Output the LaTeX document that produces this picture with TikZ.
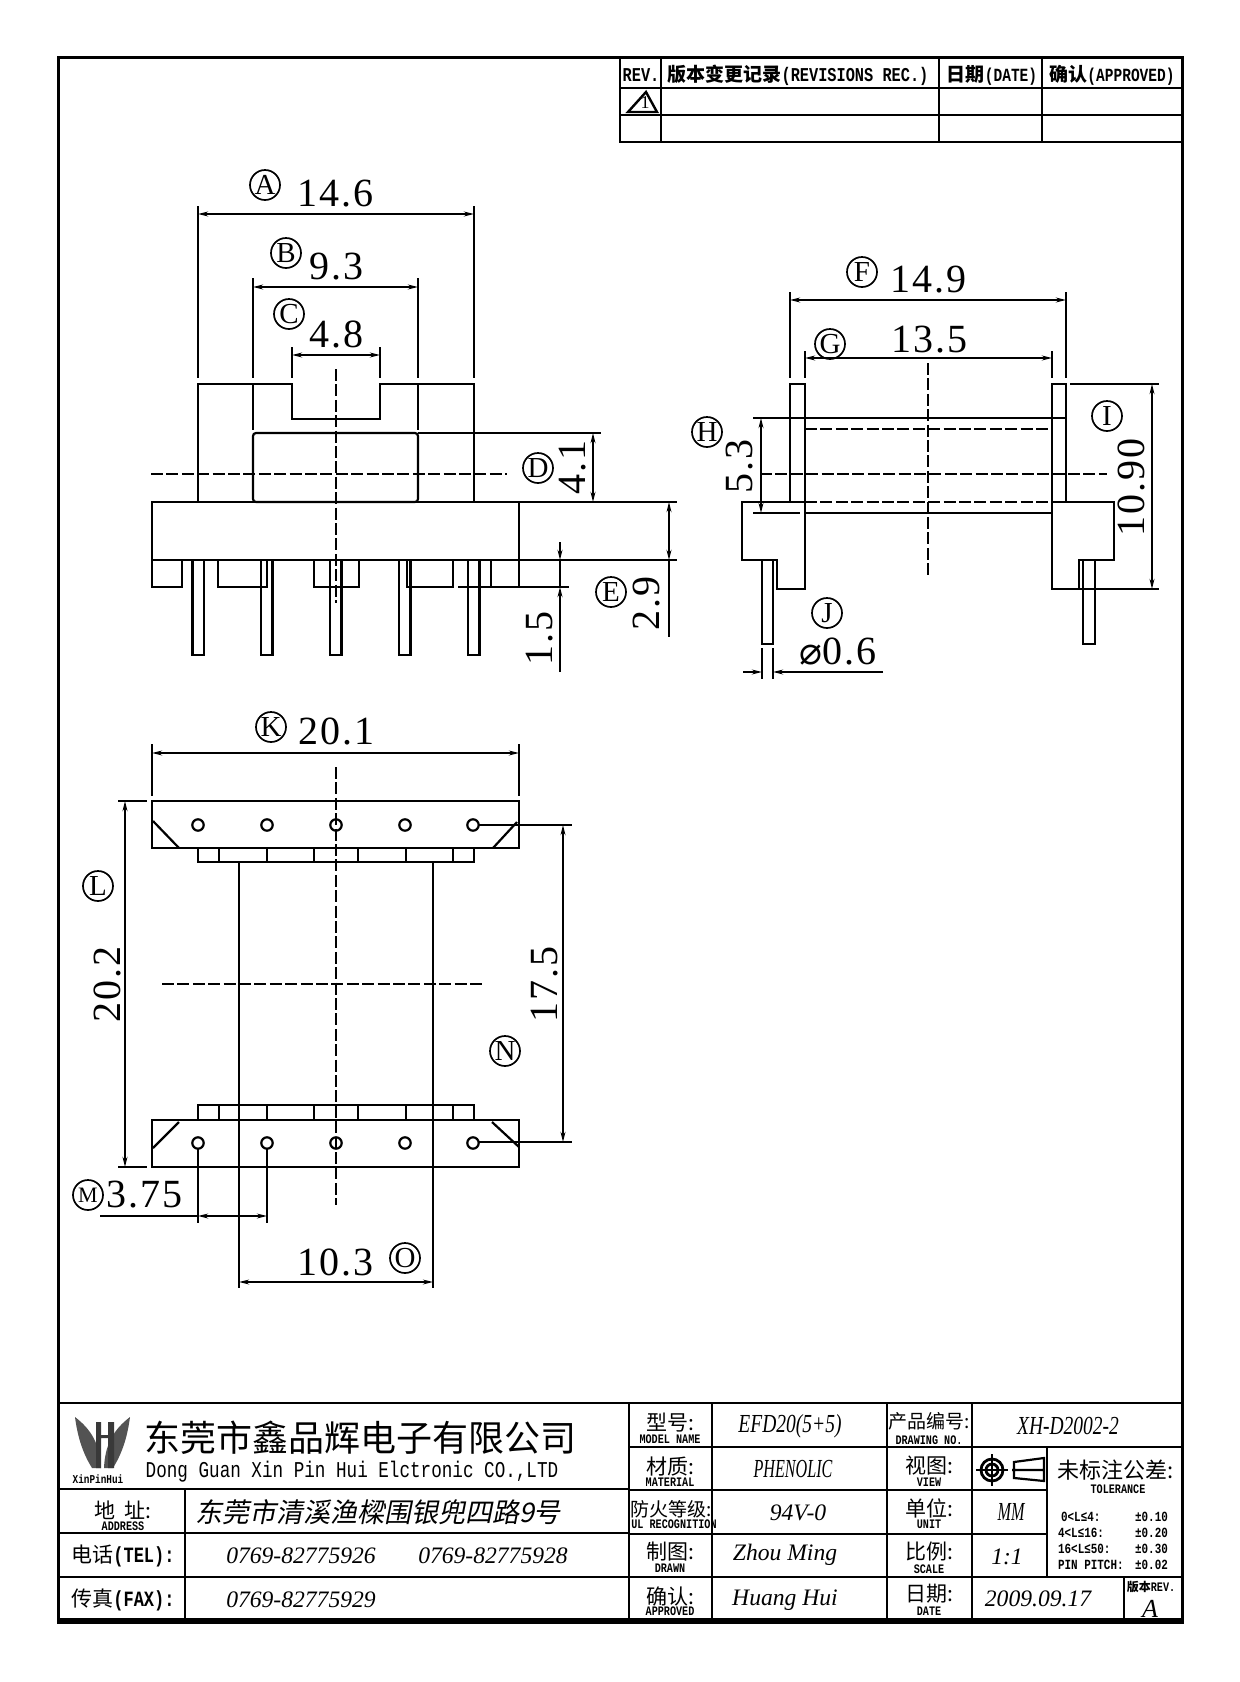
\documentclass[tikz,border=0pt]{standalone}
\usepackage{fontspec}
\usetikzlibrary{arrows.meta}
\setmainfont{Liberation Serif}
\newfontfamily\hanfont{Noto Sans CJK SC}
\newfontfamily\hanslant[FakeSlant=0.2]{Noto Sans CJK SC}
\newfontfamily\latfont[FakeStretch=0.78]{Liberation Mono}
\newfontfamily\dimfont[LetterSpace=5]{Liberation Serif}
\newfontfamily\symfont{DejaVu Sans}
\newfontfamily\valcond[FakeStretch=0.75]{Liberation Serif}
\newfontfamily\valnarrow[FakeStretch=0.62]{Liberation Serif}
\newcommand{\fsz}[1]{\fontsize{#1}{#1}\selectfont}
\begin{document}
\begin{tikzpicture}[x=0.5pt,y=-0.5pt,line width=1.1pt,>={Stealth[length=5pt,width=2.4pt]},
    every node/.style={inner sep=0pt,align=center},
    letterc/.style={circle,draw,line width=0.85pt,minimum size=15pt,font=\fsz{14.5}},
    dimtext/.style={font=\dimfont\fsz{20}},
    dimline/.style={<->,line width=0.95pt},
    centerline/.style={line width=0.95pt,dash pattern=on 6pt off 1.7pt},
    hanbig/.style={font=\hanfont\fsz{10.5}},
    capsmall/.style={font=\latfont\bfseries\fsz{6.5}},
    valit/.style={font=\itshape\fsz{11.8}},
    valc/.style={font=\valcond\itshape\fsz{13}},
    valn/.style={font=\valnarrow\itshape\fsz{13}},
    tolrow/.style={font=\latfont\bfseries\fsz{7},anchor=west}]
\fill[white] (0,0) rectangle (1240,1682);
\useasboundingbox (0,0) rectangle (1240,1682);
% frame and revision table
\draw[line width=1.5pt] (58,57) rectangle (1182,1622);
\draw[line width=1.4pt] (620,57) -- (620,142) -- (1182,142) (620,88) -- (1182,88) (620,115) -- (1182,115)
  (661,57) -- (661,142) (939,57) -- (939,142) (1042,57) -- (1042,142);
\node[font=\latfont\bfseries\fsz{9.8}] (revhead) at (641,75) {REV.};
\node (revtext) at (798,75) {{\hanfont\bfseries\fsz{9.5}版本变更记录}{\latfont\bfseries\fsz{9.8}(REVISIONS REC.)}};
\node (datetext) at (992,75) {{\hanfont\bfseries\fsz{9.5}日期}{\latfont\bfseries\fsz{9.3}(DATE)}};
\node (oktext) at (1112,75) {{\hanfont\bfseries\fsz{9.5}确认}{\latfont\bfseries\fsz{9.3}(APPROVED)}};
\draw[line width=1.2pt] (628,112) -- (646,92) -- (657,112) -- cycle;
\node[font=\fsz{9}] (revone) at (645,103) {1};
% front view
\draw (198,502) -- (198,384) -- (292,384) -- (292,419) -- (380,419) -- (380,384) -- (474,384) -- (474,502);
\draw (253,384) -- (253,430) (418,384) -- (418,430);
\draw[rounded corners=1.5pt] (253,433) rectangle (418,502);
\draw (152,502) rectangle (519,560);
\draw (152,560) -- (152,587) -- (182,587) -- (182,560);
\draw (218,560) -- (218,587) -- (267,587) -- (267,560);
\draw (314,560) -- (314,587) -- (359,587) -- (359,560);
\draw (407,560) -- (407,587) -- (453,587) -- (453,560);
\draw (491,560) -- (491,587) (519,560) -- (519,587) (458,587) -- (569,587);
\foreach \pinx in {192.5,261,330,399,468}
  \draw (\pinx,560) rectangle ++(11.5,95);
\draw[centerline] (336,369) -- (336,603);
\draw[centerline] (151,474) -- (507,474);
% front view dimensions
\draw (198,206) -- (198,378) (474,206) -- (474,378) (253,278) -- (253,378) (418,278) -- (418,378)
  (292,347) -- (292,378) (380,347) -- (380,378);
\draw[dimline] (198,214) -- (474,214);
\draw[dimline] (253,287) -- (418,287);
\draw[dimline] (292,355) -- (380,355);
\node[letterc] (lettera) at (265,185) {A};
\node[dimtext] (dima) at (335,194) {14.6};
\node[letterc] (letterb) at (286,253) {B};
\node[dimtext] (dimb) at (336,267) {9.3};
\node[letterc] (letterc) at (289,314) {C};
\node[dimtext] (dimc) at (336,334) {4.8};
\draw (418,433) -- (601,433) (519,502) -- (677,502) (519,560) -- (677,560);
\draw[dimline] (593,433) -- (593,502);
\draw[dimline] (669,502) -- (669,560);
\draw (669,560) -- (669,637);
\draw[->] (560,542) -- (560,560);
\draw (560,560) -- (560,587);
\draw[->] (560,672) -- (560,587);
\node[letterc] (letterd) at (538,468) {D};
\node[dimtext,rotate=90] (dimd) at (573,467) {4.1};
\node[letterc] (lettere) at (611,592) {E};
\node[dimtext,rotate=90] (dime) at (647,603) {2.9};
\node[dimtext,rotate=90] (dimf) at (540,638) {1.5};
% side view
\draw (790,502) -- (790,384) -- (805,384) -- (805,589) -- (777,589) -- (777,560) -- (742,560) -- (742,502) -- (805,502);
\draw (1066,502) -- (1066,384) -- (1052,384) -- (1052,589) -- (1079,589) -- (1079,560) -- (1114,560) -- (1114,502) -- (1052,502);
\draw (762,560) -- (762,644) -- (773,644) -- (773,560);
\draw (1083,560) -- (1083,644) -- (1095,644) -- (1095,560);
\draw (753,418) -- (1066,418) (753,513) -- (800,513) (805,513) -- (1052,513);
\draw[centerline] (805,429) -- (1052,429) (805,502) -- (1052,502);
\draw[centerline] (760,474) -- (1107,474);
\draw[centerline] (928,363) -- (928,577);
% side view dimensions
\draw (790,292) -- (790,378) (1066,292) -- (1066,378) (805,351) -- (805,378) (1052,351) -- (1052,378);
\draw[dimline] (790,300) -- (1066,300);
\draw[dimline] (805,358) -- (1052,358);
\node[letterc] (letterf) at (862,272) {F};
\node[dimtext] (dimg) at (928,280) {14.9};
\node[letterc] (letterg) at (830,344) {G};
\node[dimtext] (dimh) at (929,340) {13.5};
\draw[dimline] (761,418) -- (761,513);
\node[letterc] (letterh) at (707,432) {H};
\node[dimtext,rotate=90] (dimi) at (740,466) {5.3};
\node[letterc] (letteri) at (1107,416) {I};
\node[dimtext,rotate=90] (dimj) at (1131,487) {10.90};
\draw (1070,384) -- (1159,384) (1079,589) -- (1159,589);
\draw[dimline] (1152,384) -- (1152,589);
\node[letterc] (letterj) at (827,613) {J};
\node[dimtext] (dimk) at (838,652) {{\symfont\fsz{19}⌀}0.6};
\draw (762,648) -- (762,679) (773,648) -- (773,679);
\draw[->] (743,672) -- (762,672);
\draw[->] (883,672) -- (773,672);
% plan view
\draw (152,801) rectangle (519,848);
\draw (152,1120) rectangle (519,1167);
\draw (153,821) -- (179,848) (493,848) -- (517,822);
\draw (153,1148) -- (179,1122) (492,1122) -- (519,1147);
\draw (198,848) rectangle (474,862);
\draw (198,1105) rectangle (474,1120);
\foreach \divx in {219,267,314,358,406,453} {
  \draw (\divx,848) -- (\divx,862);
  \draw (\divx,1105) -- (\divx,1120);
}
\foreach \holex in {198,267,336,405,473} {
  \draw (\holex,825) circle (5.7);
  \draw (\holex,1143) circle (5.7);
}
\draw (239,862) -- (239,1288) (433,862) -- (433,1288);
\draw[centerline] (336,767) -- (336,1205);
\draw[centerline] (162,984) -- (484,984);
% plan view dimensions
\draw (152,744) -- (152,796) (519,744) -- (519,796);
\draw[dimline] (152,753) -- (519,753);
\node[letterc] (letterk) at (271,727) {K};
\node[dimtext] (diml) at (336,731) {20.1};
\draw (118,801) -- (147,801) (118,1167) -- (147,1167);
\draw[dimline] (125,801) -- (125,1167);
\node[letterc] (letterl) at (98,886) {L};
\node[dimtext,rotate=90] (dimm) at (107,984) {20.2};
\draw (479,825) -- (572,825) (479,1142) -- (572,1142);
\draw[dimline] (563,825) -- (563,1142);
\node[dimtext,rotate=90] (dimn) at (545,984) {17.5};
\node[letterc] (lettern) at (505,1051) {N};
\draw (198,1149) -- (198,1223) (267,1149) -- (267,1223) (100,1216) -- (198,1216);
\draw[dimline] (198,1216) -- (267,1216);
\node[letterc,font=\fsz{11}] (letterm) at (88,1195) {M};
\node[dimtext] (dimo) at (144,1195) {3.75};
\draw[dimline] (239,1282) -- (433,1282);
\node[dimtext] (dimp) at (335,1262) {10.3};
\node[letterc] (lettero) at (405,1258) {O};
% title block
\draw[line width=1.4pt] (58,1403) -- (1182,1403) (58,1489) -- (629,1489) (58,1533) -- (629,1533) (58,1577) -- (629,1577)
  (185,1489) -- (185,1622) (629,1403) -- (629,1622) (712,1403) -- (712,1622) (887,1403) -- (887,1622) (972,1403) -- (972,1622)
  (629,1447) -- (1182,1447) (629,1490) -- (1047,1490) (629,1534) -- (1047,1534) (629,1577) -- (1182,1577)
  (1047,1447) -- (1047,1577) (1124,1577) -- (1124,1622);
\draw[line width=2.6pt] (58,1621) -- (1182,1621);
% logo
\fill[gray!65!black] (75,1417) .. controls (78,1440) and (84,1455) .. (92,1468) -- (101,1468) .. controls (100,1445) and (92,1430) .. (75,1417);
\fill[gray!65!black] (130,1417) .. controls (127,1440) and (121,1455) .. (113,1468) -- (104,1468) .. controls (105,1445) and (113,1430) .. (130,1417);
\fill[gray!45!black] (96,1422) rectangle (101,1468) (108,1422) rectangle (114,1468) (96,1435) rectangle (114,1438);
\node[font=\latfont\bfseries\fsz{6}] (logotext) at (98,1479) {XinPinHui};
\node[font=\hanfont\fsz{18}] (company) at (360,1438) {东莞市鑫品辉电子有限公司};
\node[font=\latfont\fsz{11.3}] (companyen) at (352,1472) {Dong Guan Xin Pin Hui Elctronic CO.,LTD};
\node[hanbig] (addrlabel) at (123,1510) {地\ \ 址:};
\node[capsmall] (addrcap) at (123,1526) {ADDRESS};
\node[font=\hanslant\fsz{13.5}] (addrtext) at (378,1512) {东莞市清溪渔樑围银兜四路9号};
\node (tellabel) at (123,1556) {{\hanfont\fsz{10.5}电话}{\latfont\bfseries\fsz{10.9}(TEL):}};
\node (faxlabel) at (123,1600) {{\hanfont\fsz{10.5}传真}{\latfont\bfseries\fsz{10.9}(FAX):}};
\node[valit] (telone) at (301,1556) {0769-82775926};
\node[valit] (teltwo) at (493,1556) {0769-82775928};
\node[valit] (faxone) at (301,1600) {0769-82775929};
\node[hanbig] (modellabel) at (670,1423) {型号:};
\node[capsmall] (modelcap) at (670,1439) {MODEL NAME};
\node[hanbig] (matlabel) at (670,1466) {材质:};
\node[capsmall] (matcap) at (670,1482) {MATERIAL};
\node[font=\hanfont\fsz{9.5}] (firelabel) at (671,1509) {防火等级:};
\node[capsmall] (firecap) at (674,1524) {UL RECOGNITION};
\node[hanbig] (drawnlabel) at (670,1552) {制图:};
\node[capsmall] (drawncap) at (670,1568) {DRAWN};
\node[hanbig] (apprlabel) at (670,1596) {确认:};
\node[capsmall] (apprcap) at (670,1611) {APPROVED};
\node[valc] (modelval) at (790,1426) {EFD20(5+5)};
\node[valn] (matval) at (793,1469) {PHENOLIC};
\node[valit] (fireval) at (798,1513) {94V-0};
\node[valit] (drawnval) at (785,1555) {Zhou Ming};
\node[valit] (apprval) at (785,1600) {Huang Hui};
\node[font=\hanfont\fsz{9.5}] (drawnolabel) at (929,1421) {产品编号:};
\node[capsmall] (drawnocap) at (929,1440) {DRAWING NO.};
\node[hanbig] (viewlabel) at (929,1466) {视图:};
\node[capsmall] (viewcap) at (929,1482) {VIEW};
\node[hanbig] (unitlabel) at (929,1508) {单位:};
\node[capsmall] (unitcap) at (929,1524) {UNIT};
\node[hanbig] (scalelabel) at (929,1552) {比例:};
\node[capsmall] (scalecap) at (929,1569) {SCALE};
\node[hanbig] (datelabel) at (929,1594) {日期:};
\node[capsmall] (datecap) at (929,1611) {DATE};
\node[valc] (drawnoval) at (1068,1426) {XH-D2002-2};
\node[valn] (unitval) at (1011,1512) {MM};
\node[valit] (scaleval) at (1007,1557) {1:1};
\node[valit] (dateval) at (1038,1599) {2009.09.17};
\node (revlabel) at (1151,1587) {{\hanfont\bfseries\fsz{6}版本}{\latfont\bfseries\fsz{6.5}REV.}};
\node[font=\itshape\fsz{13}] (revval) at (1150,1609) {A};
% projection symbol
\draw[line width=1.4pt] (992,1470) circle (11) (992,1470) circle (6);
\draw (976,1470) -- (1008,1470) (992,1454) -- (992,1486);
\draw (1014,1462) -- (1044,1458) -- (1044,1481) -- (1014,1478) -- cycle (1012,1470) -- (1044,1470);
% tolerance
\node[font=\hanfont\fsz{11}] (tolhead) at (1116,1470) {未标注公差:};
\node[capsmall] (tolcap) at (1118,1489) {TOLERANCE};
\node[tolrow] (rowa) at (1060,1517) {0<L≤4:};
\node[tolrow] (vala) at (1134,1517) {±0.10};
\node[tolrow] (rowb) at (1057,1533) {4<L≤16:};
\node[tolrow] (valb) at (1134,1533) {±0.20};
\node[tolrow] (rowc) at (1057,1549) {16<L≤50:};
\node[tolrow] (valc) at (1134,1549) {±0.30};
\node[tolrow] (rowd) at (1057,1565) {PIN PITCH:};
\node[tolrow] (vald) at (1134,1565) {±0.02};
\end{tikzpicture}
\end{document}
